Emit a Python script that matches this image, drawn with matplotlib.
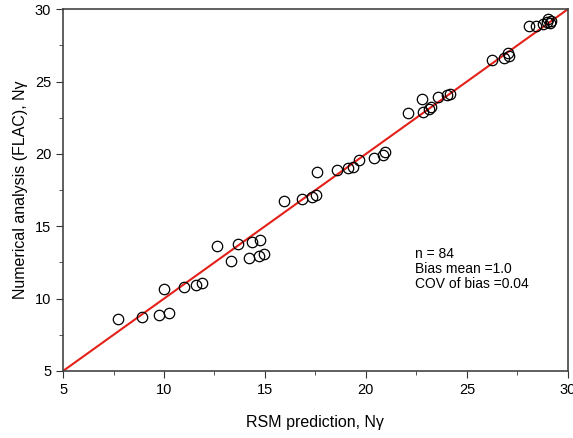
import matplotlib
matplotlib.use("Agg")
import matplotlib.pyplot as plt
from matplotlib.ticker import MultipleLocator

plt.rcParams['font.family'] = ['Liberation Sans', 'DejaVu Sans']

# RSM prediction vs FLAC values
rsm = [7.74, 8.93, 9.77, 10.26, 10.01, 10.97, 11.58, 11.90, 13.30,
       12.61, 13.68, 14.19, 14.37, 14.75, 14.72, 14.97,
       15.96, 16.82, 17.31, 17.51, 17.60, 18.55, 19.12, 19.37, 19.67,
       20.41, 20.86, 20.96, 22.09, 22.79, 22.81, 23.13, 23.20, 23.58,
       24.04, 24.16, 26.22, 26.83, 27.05, 27.10,
       28.08, 28.40, 28.78, 29.03, 29.11, 28.99, 29.15]
flac = [8.57, 8.71, 8.85, 8.98, 10.64, 10.78, 10.96, 11.10, 12.60,
        13.65, 13.79, 12.78, 13.91, 14.05, 12.94, 13.10,
        16.72, 16.85, 17.02, 17.15, 18.75, 18.88, 19.00, 19.07, 19.57,
        19.73, 19.90, 20.10, 22.80, 23.78, 22.90, 23.09, 23.25, 23.94,
        24.06, 24.17, 26.48, 26.66, 26.94, 26.80,
        28.85, 28.85, 29.00, 29.31, 29.08, 29.10, 29.20]

fig = plt.figure(figsize=(5.73, 4.38), dpi=100)
ax = fig.add_axes([0.110, 0.153, 0.881, 0.826])

ax.plot([5, 30], [5, 30], color='#e32119', lw=1.5, zorder=1)
ax.plot(rsm, flac, 'o', ms=7.5, mfc='none', mec='black', mew=0.9, zorder=2)

ax.set_xlim(5, 30)
ax.set_ylim(5, 30)
ax.xaxis.set_major_locator(MultipleLocator(5))
ax.yaxis.set_major_locator(MultipleLocator(5))
ax.xaxis.set_minor_locator(MultipleLocator(2.5))
ax.yaxis.set_minor_locator(MultipleLocator(2.5))
ax.tick_params(which='both', direction='out', colors='#333333', labelcolor='black', labelsize=10.5)
ax.tick_params(which='major', length=5)
ax.tick_params(which='minor', length=3)
for s in ax.spines.values():
    s.set_color('#444444')
    s.set_linewidth(1.2)

ax.set_xlabel('RSM prediction, N\u03b3', fontsize=11.5, labelpad=13)
ax.set_ylabel('Numerical analysis (FLAC), N\u03b3', fontsize=11.5, labelpad=5)

ax.text(22.45, 13.6, 'n = 84\nBias mean =1.0\nCOV of bias =0.04',
        fontsize=10, va='top', ha='left', linespacing=1.1)

fig.savefig('out.png', dpi=100)
